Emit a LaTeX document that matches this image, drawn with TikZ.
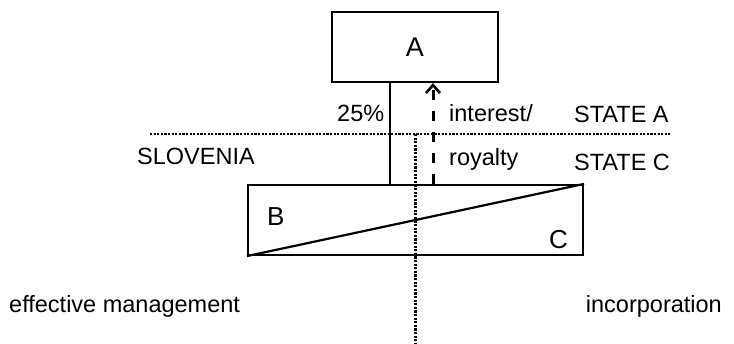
\documentclass[tikz,border=0pt]{standalone}
\usepackage{fontspec}
\setmainfont{Liberation Sans}
\usetikzlibrary{arrows.meta}
\begin{document}
\begin{tikzpicture}[x=1pt,y=-1pt,
  txt/.style={inner sep=0pt,font=\fontsize{23.5}{28}\selectfont},
  big/.style={inner sep=0pt,font=\fontsize{26}{30}\selectfont},
  boxA/.style={draw,line width=2.2pt,minimum width=166pt,minimum height=70pt,inner sep=0pt,font=\fontsize{27}{30}\selectfont},
  boxBC/.style={draw,line width=2.2pt,minimum width=335pt,minimum height=70pt,inner sep=0pt},
  solidline/.style={line width=2pt},
  dashline/.style={line width=3pt,dash pattern=on 10pt off 11pt,-{Straight Barb[length=8pt,width=14pt,line width=2.6pt]}},
  dotline/.style={line width=2.8pt,dash pattern=on 2.2pt off 1.4pt}]
\useasboundingbox (0,0) rectangle (734,343);
\node[boxA] (A) at (415,47) {A};
\node[boxBC] (BC) at (415.5,220) {};
\draw[line width=2.2pt] (BC.south west) -- (BC.north east);
\node[big,anchor=base west] (B) at (267,225) {B};
\node[big,anchor=base west] (C) at (549,248) {C};
\coordinate (s) at (390,0);
\coordinate (d) at (433,0);
\draw[solidline] (A.south -| s) -- (BC.north -| s);
\draw[dashline] (BC.north -| d) -- (A.south -| d);
\coordinate (hl) at (150,134);
\coordinate (hr) at (670,134);
\coordinate (vt) at (415.5,134);
\coordinate (vb) at (415.5,343);
\draw[dotline] (hl) -- (hr);
\draw[dotline] (vt) -- (vb);
\node[txt,anchor=base west] (p25) at (337,121) {25\%};
\node[txt,anchor=base west] (int) at (449,121) {interest/};
\node[txt,anchor=base west] (sa) at (574,122) {STATE A};
\node[txt,anchor=base west] (slo) at (137,164) {SLOVENIA};
\node[txt,anchor=base west] (roy) at (449,165) {royalty};
\node[txt,anchor=base west] (sc) at (574,170) {STATE C};
\node[txt,anchor=base west] (em) at (9,312) {effective management};
\node[txt,anchor=base east] (inc) at (722,312) {incorporation};
\end{tikzpicture}
\end{document}
